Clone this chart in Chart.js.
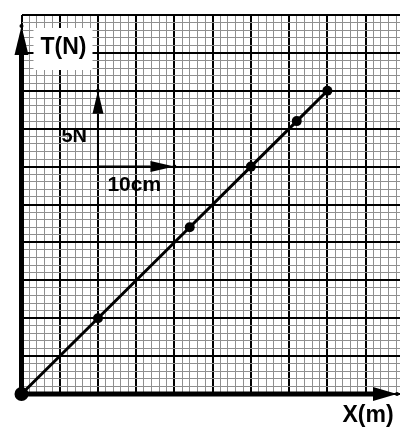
<!DOCTYPE html>
<html>
<head>
<meta charset="utf-8">
<script src="https://cdn.jsdelivr.net/npm/chart.js@4.4.1/dist/chart.umd.min.js"></script>
<style>
  html, body { margin: 0; padding: 0; background: #fff; }
  #wrap { width: 400px; height: 430px; position: relative; }
</style>
</head>
<body>
<div id="wrap"><canvas id="c" width="400" height="430"></canvas></div>
<script>
// ---- data ----
const xValues = [0, 2, 4.4, 6, 7.2, 8];      // X (grid units)
const tValues = [0, 2, 4.4, 6, 7.2, 8];      // T (grid units)
const xAxisLabel = 'X(m)';
const yAxisLabel = 'T(N)';
const scaleLabelT = '5N';
const scaleLabelX = '10cm';
const xMin = 0, xMax = 9.9, yMin = 0, yMax = 10;

const points = xValues.map((x, i) => ({ x: x, y: tValues[i] }));

function isMajor(v) { return Math.abs(v - Math.round(v)) < 1e-6; }

function drawArrow(ctx, x1, y1, x2, y2, lw, headLen, headHalf) {
  const ang = Math.atan2(y2 - y1, x2 - x1);
  const bx = x2 - headLen * Math.cos(ang), by = y2 - headLen * Math.sin(ang);
  ctx.save();
  ctx.strokeStyle = '#000'; ctx.fillStyle = '#000';
  ctx.lineWidth = lw; ctx.lineCap = 'butt';
  ctx.beginPath(); ctx.moveTo(x1, y1); ctx.lineTo(bx, by); ctx.stroke();
  ctx.beginPath();
  ctx.moveTo(x2, y2);
  ctx.lineTo(bx + headHalf * Math.sin(ang), by - headHalf * Math.cos(ang));
  ctx.lineTo(bx - headHalf * Math.sin(ang), by + headHalf * Math.cos(ang));
  ctx.closePath(); ctx.fill();
  ctx.beginPath(); ctx.arc(x2, y2, 2, 0, Math.PI * 2); ctx.fill();
  ctx.restore();
}

const overlay = {
  id: 'overlay',
  afterDraw(chart) {
    const ctx = chart.ctx, a = chart.chartArea;
    const sx = chart.scales.x, sy = chart.scales.y;
    const ox = sx.getPixelForValue(0), oy = sy.getPixelForValue(0);

    // white box behind y-axis label
    ctx.save();
    ctx.fillStyle = '#fff';
    ctx.fillRect(ox + 12, a.top + 13, 59, 42);
    ctx.restore();

    // axes
    drawArrow(ctx, ox, oy + 2.5, ox, a.top + 11, 5, 29, 7);
    drawArrow(ctx, ox - 2.5, oy, a.right - 3, oy, 5, 24, 7);

    // scale arrows (5N up, 10cm right)
    const px2 = sx.getPixelForValue(2), py6 = sy.getPixelForValue(6);
    drawArrow(ctx, px2, py6, px2, sy.getPixelForValue(8), 2, 23, 5.5);
    drawArrow(ctx, px2, py6, sx.getPixelForValue(4), py6, 2, 24, 5.5);

    // texts
    ctx.save();
    ctx.fillStyle = '#000';
    ctx.textAlign = 'center'; ctx.textBaseline = 'middle';
    ctx.font = 'bold 23px "Liberation Sans", Arial, sans-serif';
    ctx.fillText(yAxisLabel, ox + 42, a.top + 33);
    ctx.fillText(xAxisLabel, a.right - 32, oy + 22);
    ctx.font = 'bold 20px "Liberation Sans", Arial, sans-serif';
    ctx.fillText(scaleLabelT, sx.getPixelForValue(1.38), sy.getPixelForValue(6.8));
    ctx.font = 'bold 21px "Liberation Sans", Arial, sans-serif';
    ctx.fillText(scaleLabelX, sx.getPixelForValue(2.95), sy.getPixelForValue(5.5));
    ctx.restore();
  }
};

const gridColor = (c) => isMajor(c.tick.value) ? '#000' : '#8f8f8f';
const gridWidth = (c) => isMajor(c.tick.value) ? 2 : 1;

new Chart(document.getElementById('c'), {
  type: 'scatter',
  data: {
    datasets: [{
      data: points,
      showLine: true,
      borderColor: '#000',
      backgroundColor: '#000',
      borderWidth: 3,
      pointRadius: [7, 5, 5, 5, 5, 5],
      pointBorderWidth: 0,
      clip: false
    }]
  },
  options: {
    responsive: false,
    animation: false,
    devicePixelRatio: 1,
    layout: { autoPadding: false, padding: { left: 21.5, top: 15, right: 0, bottom: 36 } },
    plugins: { legend: { display: false }, tooltip: { enabled: false } },
    scales: {
      x: {
        type: 'linear', min: xMin, max: xMax,
        border: { display: false },
        grid: { color: gridColor, lineWidth: gridWidth, drawTicks: false },
        ticks: { display: false, stepSize: 0.2, includeBounds: false, maxTicksLimit: 100 }
      },
      y: {
        type: 'linear', min: yMin, max: yMax,
        border: { display: false },
        grid: { color: gridColor, lineWidth: gridWidth, drawTicks: false },
        ticks: { display: false, stepSize: 0.2, includeBounds: false, maxTicksLimit: 100 }
      }
    }
  },
  plugins: [overlay]
});
</script>
</body>
</html>
